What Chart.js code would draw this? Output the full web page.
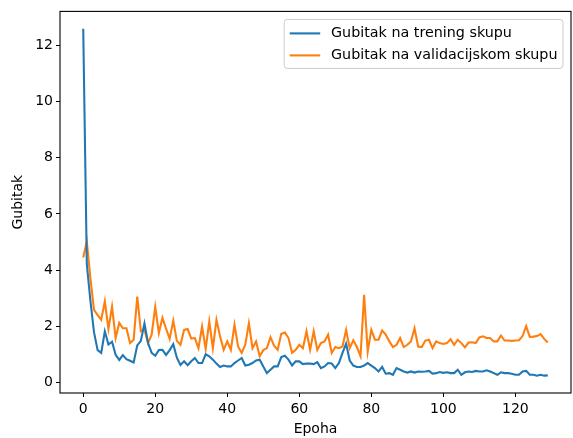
<!DOCTYPE html>
<html><head><meta charset="utf-8">
<script src="https://cdn.jsdelivr.net/npm/chart.js@4/dist/chart.umd.min.js"></script>
<style>html,body{margin:0;padding:0;background:#fff}#wrap{width:573px;height:438px}</style>
</head><body><div id="wrap"><canvas id="c" width="573" height="438"></canvas></div>
<script>
const epochs = [0,1,2,3,4,5,6,7,8,9,10,11,12,13,14,15,16,17,18,19,20,21,22,23,24,25,26,27,28,29,
30,31,32,33,34,35,36,37,38,39,40,41,42,43,44,45,46,47,48,49,50,51,52,53,54,55,56,57,58,59,
60,61,62,63,64,65,66,67,68,69,70,71,72,73,74,75,76,77,78,79,80,81,82,83,84,85,86,87,88,89,
90,91,92,93,94,95,96,97,98,99,100,101,102,103,104,105,106,107,108,109,110,111,112,113,114,115,116,117,118,119,
120,121,122,123,124,125,126,127,128,129];

const trainLoss = [12.6,4.2,2.9,1.78,1.15,1.05,1.82,1.35,1.45,0.98,0.8,0.97,0.83,0.77,0.71,1.32,1.48,2.1,1.4,1.05,
0.95,1.15,1.16,0.98,1.15,1.36,0.88,0.62,0.75,0.61,0.75,0.87,0.69,0.69,1.0,0.93,0.81,0.67,0.55,0.6,
0.57,0.57,0.69,0.78,0.87,0.6,0.63,0.69,0.78,0.81,0.57,0.33,0.45,0.57,0.57,0.9,0.95,0.81,0.6,0.75,
0.75,0.65,0.67,0.67,0.65,0.72,0.51,0.57,0.69,0.67,0.51,0.69,1.05,1.38,0.78,0.6,0.55,0.55,0.6,0.69,
0.6,0.51,0.39,0.55,0.31,0.33,0.27,0.51,0.45,0.39,0.35,0.39,0.35,0.39,0.38,0.39,0.41,0.31,0.33,0.37,
0.34,0.36,0.33,0.33,0.45,0.27,0.36,0.39,0.37,0.41,0.39,0.39,0.43,0.39,0.33,0.27,0.36,0.33,0.33,0.31,
0.27,0.27,0.39,0.41,0.27,0.27,0.24,0.27,0.24,0.25];

const valLoss = [4.45,5.02,3.7,2.58,2.4,2.23,2.89,1.9,2.7,1.58,2.12,1.93,1.93,1.4,1.52,3.06,1.82,1.88,1.4,1.7,
2.69,1.76,2.3,1.92,1.55,2.2,1.48,1.34,1.87,1.9,1.56,1.58,1.22,1.99,1.19,2.17,1.22,2.23,1.64,1.16,
1.46,1.16,2.05,1.28,1.05,1.34,2.11,1.22,1.46,0.93,1.15,1.22,1.61,1.31,1.16,1.73,1.78,1.58,1.05,1.16,
1.34,1.22,1.82,1.16,1.82,1.16,1.4,1.46,1.7,1.05,1.26,1.22,1.28,1.87,1.22,1.5,1.26,0.93,3.12,1.1,
1.87,1.52,1.52,1.85,1.7,1.46,1.26,1.34,1.58,1.26,1.34,1.46,1.93,1.28,1.26,1.49,1.52,1.22,1.46,1.4,
1.37,1.4,1.54,1.34,1.52,1.4,1.25,1.42,1.43,1.4,1.6,1.64,1.58,1.58,1.46,1.46,1.67,1.49,1.49,1.48,
1.49,1.5,1.65,2.0,1.62,1.63,1.65,1.72,1.55,1.42];

const seriesLabels = ['Gubitak na trening skupu','Gubitak na validacijskom skupu'];
const seriesColors = ['#1f77b4','#ff7f0e'];
const xTicks = [0,20,40,60,80,100,120];
const yTicks = [0,2,4,6,8,10,12];
const xTitle = 'Epoha';
const yTitle = 'Gubitak';

const FONT = {family:'"DejaVu Sans", sans-serif', size:14};
const TXT = '#000';

const frame = {
  id:'frame',
  afterDatasetsDraw(chart){
    const {ctx, chartArea:a} = chart;
    ctx.save();
    ctx.strokeStyle = '#000';
    ctx.lineWidth = 1.1;
    ctx.strokeRect(a.left, a.top, a.right - a.left, a.bottom - a.top);
    ctx.restore();
  }
};

const mplLegend = {
  id:'mplLegend',
  afterDraw(chart){
    const {ctx, chartArea:a} = chart;
    ctx.save();
    ctx.font = '14.3px "DejaVu Sans", sans-serif';
    const labels = chart.data.datasets.map(d => d.label);
    const tw = Math.max(...labels.map(l => ctx.measureText(l).width));
    const pad = 5.5, hl = 30.5, htp = 10.8;
    const w = pad + hl + htp + tw + pad;
    const right = a.right - 8, top = a.top + 8;
    const left = right - w;
    const rowH = 22;
    const h = 49;
    const r = 3;
    ctx.beginPath();
    ctx.moveTo(left + r, top);
    ctx.lineTo(right - r, top);
    ctx.quadraticCurveTo(right, top, right, top + r);
    ctx.lineTo(right, top + h - r);
    ctx.quadraticCurveTo(right, top + h, right - r, top + h);
    ctx.lineTo(left + r, top + h);
    ctx.quadraticCurveTo(left, top + h, left, top + h - r);
    ctx.lineTo(left, top + r);
    ctx.quadraticCurveTo(left, top, left + r, top);
    ctx.closePath();
    ctx.fillStyle = 'rgba(255,255,255,0.8)';
    ctx.fill();
    ctx.strokeStyle = '#cccccc';
    ctx.lineWidth = 1;
    ctx.stroke();
    chart.data.datasets.forEach((d, i) => {
      const cy = top + 14 + i * rowH;
      ctx.strokeStyle = d.borderColor;
      ctx.lineWidth = 2.08;
      ctx.beginPath();
      ctx.moveTo(left + pad, cy);
      ctx.lineTo(left + pad + hl, cy);
      ctx.stroke();
      ctx.fillStyle = TXT;
      ctx.textBaseline = 'middle';
      ctx.textAlign = 'left';
      ctx.fillText(d.label, left + pad + hl + htp, cy);
    });
    ctx.restore();
  }
};

const toXY = arr => arr.map((v, i) => ({x: epochs[i], y: v}));

new Chart(document.getElementById('c'), {
  type:'line',
  data:{
    datasets:[
      {label:seriesLabels[0], data:toXY(trainLoss), borderColor:seriesColors[0], backgroundColor:seriesColors[0]},
      {label:seriesLabels[1], data:toXY(valLoss), borderColor:seriesColors[1], backgroundColor:seriesColors[1]}
    ]
  },
  options:{
    responsive:false,
    animation:false,
    devicePixelRatio:1,
    layout:{padding:{left:0, right:2, top:11, bottom:0}},
    elements:{point:{radius:0}, line:{borderWidth:2.08, tension:0}},
    plugins:{legend:{display:false}, tooltip:{enabled:false}},
    scales:{
      x:{
        type:'linear', min:-6.45, max:135.45,
        afterBuildTicks: s => { s.ticks = xTicks.map(v => ({value:v})); },
        afterFit: s => { s.height = 45; },
        grid:{drawOnChartArea:false, drawTicks:true, tickLength:4, color:'#000', lineWidth:1},
        border:{display:false},
        ticks:{font:FONT, color:TXT, padding:4, maxRotation:0, autoSkip:false},
        title:{display:true, text:xTitle, font:FONT, color:TXT, padding:{top:0, bottom:0}}
      },
      y:{
        type:'linear', min:-0.378, max:13.218,
        afterBuildTicks: s => { s.ticks = yTicks.map(v => ({value:v})); },
        afterFit: s => { s.width = 60; },
        grid:{drawOnChartArea:false, drawTicks:true, tickLength:4, color:'#000', lineWidth:1},
        border:{display:false},
        ticks:{font:FONT, color:TXT, padding:3, autoSkip:false},
        title:{display:true, text:yTitle, font:FONT, color:TXT, padding:{top:10, bottom:0}}
      }
    }
  },
  plugins:[frame, mplLegend]
});
</script>
</body></html>
